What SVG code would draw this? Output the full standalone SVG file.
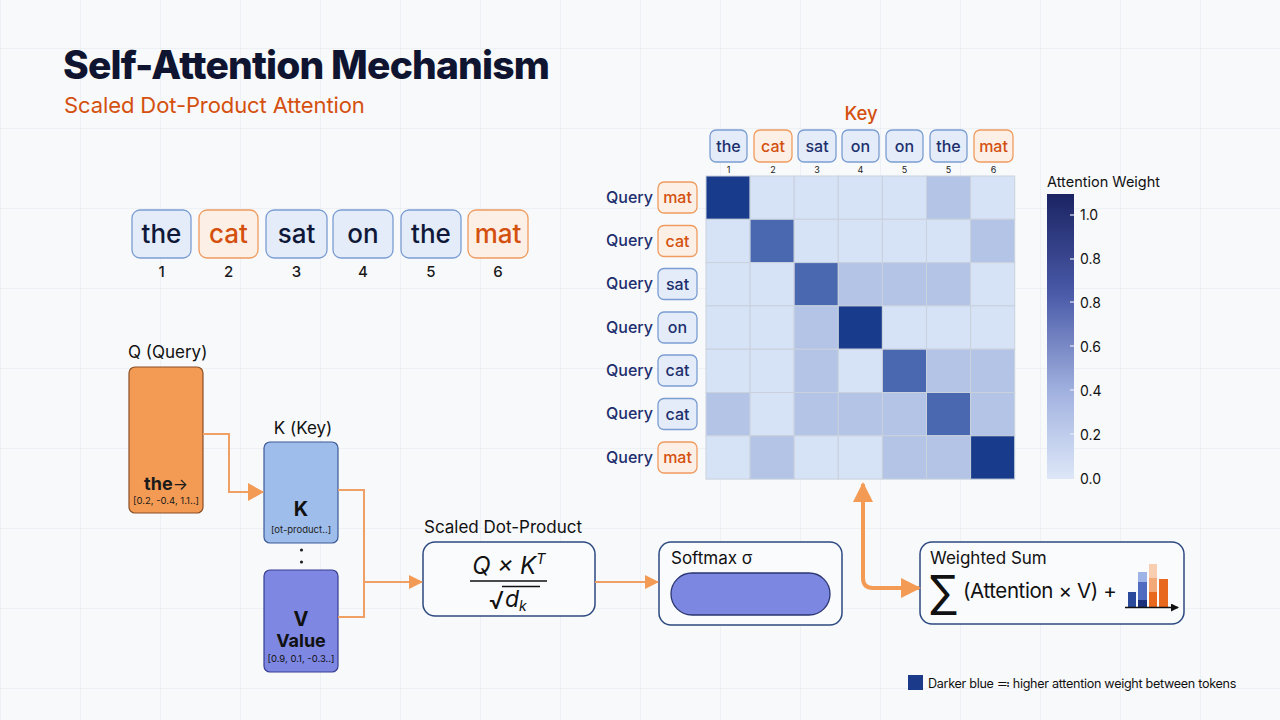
<svg xmlns="http://www.w3.org/2000/svg" width="1280" height="720" viewBox="0 0 1280 720">
<defs>
<pattern id="grid" patternUnits="userSpaceOnUse" x="0" y="48" width="80" height="80">
<path d="M0 0 H80 M0 0 V80" fill="none" stroke="#e1e7ed" stroke-width="1"/>
</pattern>
<linearGradient id="cbar" x1="0" y1="0" x2="0" y2="1">
<stop offset="0" stop-color="#1b2463"/>
<stop offset="0.35" stop-color="#4a5aa8"/>
<stop offset="0.7" stop-color="#a3b3e0"/>
<stop offset="1" stop-color="#dde7f8"/>
</linearGradient>
<marker id="ah" viewBox="0 0 16 18" refX="15" refY="9" markerWidth="16" markerHeight="18" markerUnits="userSpaceOnUse" orient="auto">
<path d="M0,0 L16,9 L0,18 z" fill="#f39a55"/>
</marker>
<marker id="ahs" viewBox="0 0 14 14" refX="13" refY="7" markerWidth="14" markerHeight="14" markerUnits="userSpaceOnUse" orient="auto">
<path d="M0,0 L14,7 L0,14 z" fill="#f39a55"/>
</marker>
<marker id="ahb" viewBox="0 0 20 20" refX="18" refY="10" markerWidth="20" markerHeight="20" markerUnits="userSpaceOnUse" orient="auto">
<path d="M0,0 L20,10 L0,20 z" fill="#f39a55"/>
</marker>
<marker id="axh" viewBox="0 0 8 8" refX="7" refY="4" markerWidth="8" markerHeight="8" markerUnits="userSpaceOnUse" orient="auto">
<path d="M0,0 L8,4 L0,8 z" fill="#111"/>
</marker>
</defs>
<style>
text{font-family:Inter,"Liberation Sans",sans-serif}
.tokb{fill:#e3ecf8;stroke:#7b9dd3;stroke-width:1.3}
.toko{fill:#fcefe5;stroke:#ef9b5f;stroke-width:1.3}
.tw{font-size:26px;font-weight:500;fill:#0f1838;text-anchor:middle}
.two{font-size:26px;font-weight:500;fill:#d4500f;text-anchor:middle}
.num{font-size:15px;font-weight:500;fill:#1a1a1a;text-anchor:middle}
.qlab{font-size:16px;font-weight:500;fill:#1d2f6e}
.hb{font-size:16px;font-weight:500;fill:#1d2f6e;text-anchor:middle}
.ho{font-size:16px;font-weight:500;fill:#d4500f;text-anchor:middle}
.kn{font-size:9px;fill:#222;text-anchor:middle}
.c0{fill:#d6e2f5}
.c1{fill:#b3c4e6}
.c2{fill:#4a68b0}
.c3{fill:#183b8c}
.cell{stroke:#c9d1dd;stroke-width:1}
.lbl{font-size:17px;fill:#111}
.cb{font-size:14px;fill:#111}
.box{fill:#fafbfd;stroke:#2d4a80;stroke-width:1.5}
.con{fill:none;stroke:#f0a065;stroke-width:2}
</style>
<rect width="1280" height="720" fill="#f8f9fa"/>
<rect width="1280" height="720" fill="url(#grid)"/>

<g id="title">
<text x="63" y="79" font-size="39" font-weight="800" fill="#0f1530" letter-spacing="-0.85">Self-Attention Mechanism</text>
<text x="64" y="113" font-size="22" fill="#d4500f" letter-spacing="-0.1">Scaled Dot-Product Attention</text>
</g>

<g id="tokens">
<rect class="tokb" x="132" y="210" width="59" height="48" rx="8"/>
<text class="tw" x="161.5" y="243">the</text>
<rect class="toko" x="199" y="210" width="59" height="48" rx="8"/>
<text class="two" x="228.5" y="243">cat</text>
<rect class="tokb" x="266" y="210" width="61" height="48" rx="8"/>
<text class="tw" x="296.5" y="243">sat</text>
<rect class="tokb" x="333" y="210" width="60" height="48" rx="8"/>
<text class="tw" x="363" y="243">on</text>
<rect class="tokb" x="401" y="210" width="60" height="48" rx="8"/>
<text class="tw" x="431" y="243">the</text>
<rect class="toko" x="468" y="210" width="60" height="48" rx="8"/>
<text class="two" x="498" y="243">mat</text>
<text class="num" x="161.5" y="277">1</text>
<text class="num" x="228.5" y="277">2</text>
<text class="num" x="296.5" y="277">3</text>
<text class="num" x="363" y="277">4</text>
<text class="num" x="431" y="277">5</text>
<text class="num" x="498" y="277">6</text>
</g>

<g id="query">
<text class="lbl" x="128" y="358">Q (Query)</text>
<rect x="129" y="367" width="74" height="146" rx="6" fill="#f39a55" stroke="#8a4f25" stroke-width="1.2"/>
<text x="166" y="490" font-size="18" font-weight="700" fill="#1a1a1a" text-anchor="middle">the<tspan font-weight="400" font-size="16">→</tspan></text>
<text x="166" y="504" font-size="9.5" fill="#1a1a1a" text-anchor="middle">[0.2, -0.4, 1.1..]</text>
</g>

<g id="key">
<text class="lbl" x="303" y="434" text-anchor="middle">K (Key)</text>
<rect x="264" y="442" width="74" height="101" rx="6" fill="#9ebdeb" stroke="#3b5a98" stroke-width="1.2"/>
<text x="301" y="516" font-size="20" font-weight="700" fill="#111" text-anchor="middle">K</text>
<text x="301" y="533" font-size="9.5" fill="#222" text-anchor="middle">[ot-product..]</text>
<circle cx="301.5" cy="550" r="1.6" fill="#222"/>
<circle cx="301.5" cy="562" r="1.6" fill="#222"/>
</g>

<g id="value">
<rect x="264" y="570" width="74" height="102" rx="6" fill="#7e87e1" stroke="#363d92" stroke-width="1.2"/>
<text x="301" y="626" font-size="20" font-weight="700" fill="#111" text-anchor="middle">V</text>
<text x="301" y="647" font-size="18" font-weight="700" fill="#111" text-anchor="middle">Value</text>
<text x="301" y="662" font-size="9.5" fill="#111" text-anchor="middle">[0.9, 0.1, -0.3..]</text>
</g>

<g id="scaled">
<text class="lbl" x="424" y="533">Scaled Dot-Product</text>
<rect class="box" x="423" y="542" width="172" height="74" rx="12"/>
<text x="509" y="574" font-size="24" font-style="italic" fill="#111" text-anchor="middle">Q × K<tspan font-size="15" dy="-10">T</tspan></text>
<line x1="470" y1="581" x2="547" y2="581" stroke="#111" stroke-width="1.5"/>
<text x="489" y="609" font-size="24" fill="#111">√</text>
<line x1="502" y1="586.5" x2="540" y2="586.5" stroke="#111" stroke-width="1.3"/>
<text x="505" y="607" font-size="23" font-style="italic" fill="#111">d<tspan font-size="14" dy="4">k</tspan></text>
</g>

<g id="softmax">
<rect class="box" x="659" y="542" width="183" height="83" rx="12"/>
<text class="lbl" x="671" y="564">Softmax σ</text>
<rect x="671" y="573" width="159" height="42" rx="21" fill="#7b87e1" stroke="#2a3570" stroke-width="1.3"/>
</g>

<g id="weighted">
<rect class="box" x="920" y="542" width="264" height="82" rx="12"/>
<text class="lbl" x="930" y="564">Weighted Sum</text>
<text x="929" y="609" font-size="46" fill="#111" font-family="'DejaVu Sans',sans-serif">∑</text>
<text x="963" y="598" font-size="20.5" fill="#111" letter-spacing="-0.4">(Attention × V) +</text>
<rect x="1128" y="592" width="8" height="15" fill="#2b4a9c"/>
<rect x="1138" y="572" width="9" height="10" fill="#9fb4e6"/>
<rect x="1138" y="582" width="9" height="18" fill="#4f6cc0"/>
<rect x="1138" y="600" width="9" height="7" fill="#1b2f7a"/>
<rect x="1149" y="564" width="8" height="14" fill="#f8cdb0"/>
<rect x="1149" y="578" width="8" height="14" fill="#f3a877"/>
<rect x="1149" y="592" width="8" height="15" fill="#e8691d"/>
<rect x="1159" y="579" width="9" height="28" fill="#e8691d"/>
<line x1="1125" y1="607.5" x2="1178" y2="607.5" stroke="#111" stroke-width="1.5" marker-end="url(#axh)"/>
</g>

<g id="heatmap">
<text x="861" y="120" font-size="18.5" font-weight="500" fill="#d4500f" text-anchor="middle">Key</text>
<rect class="tokb" x="710" y="130" width="37" height="32" rx="6"/>
<text class="hb" x="728.5" y="152">the</text>
<rect class="toko" x="754" y="130" width="38" height="32" rx="6"/>
<text class="ho" x="773" y="152">cat</text>
<rect class="tokb" x="798" y="130" width="38" height="32" rx="6"/>
<text class="hb" x="817" y="152">sat</text>
<rect class="tokb" x="842" y="130" width="37" height="32" rx="6"/>
<text class="hb" x="860.5" y="152">on</text>
<rect class="tokb" x="886" y="130" width="37" height="32" rx="6"/>
<text class="hb" x="904.5" y="152">on</text>
<rect class="tokb" x="930" y="130" width="37" height="32" rx="6"/>
<text class="hb" x="948.5" y="152">the</text>
<rect class="toko" x="974" y="130" width="39" height="32" rx="6"/>
<text class="ho" x="993.5" y="152">mat</text>
<text class="kn" x="728.5" y="173">1</text>
<text class="kn" x="773" y="173">2</text>
<text class="kn" x="817" y="173">3</text>
<text class="kn" x="860.5" y="173">4</text>
<text class="kn" x="904.5" y="173">5</text>
<text class="kn" x="948.5" y="173">5</text>
<text class="kn" x="993.5" y="173">6</text>

<g class="cell">
<rect class="c3" x="706" y="176" width="44.1" height="43.3"/>
<rect class="c0" x="750.1" y="176" width="44.1" height="43.3"/>
<rect class="c0" x="794.2" y="176" width="44.1" height="43.3"/>
<rect class="c0" x="838.3" y="176" width="44.1" height="43.3"/>
<rect class="c0" x="882.4" y="176" width="44.1" height="43.3"/>
<rect class="c1" x="926.5" y="176" width="44.1" height="43.3"/>
<rect class="c0" x="970.6" y="176" width="44.1" height="43.3"/>

<rect class="c0" x="706" y="219.3" width="44.1" height="43.3"/>
<rect class="c2" x="750.1" y="219.3" width="44.1" height="43.3"/>
<rect class="c0" x="794.2" y="219.3" width="44.1" height="43.3"/>
<rect class="c0" x="838.3" y="219.3" width="44.1" height="43.3"/>
<rect class="c0" x="882.4" y="219.3" width="44.1" height="43.3"/>
<rect class="c0" x="926.5" y="219.3" width="44.1" height="43.3"/>
<rect class="c1" x="970.6" y="219.3" width="44.1" height="43.3"/>

<rect class="c0" x="706" y="262.6" width="44.1" height="43.3"/>
<rect class="c0" x="750.1" y="262.6" width="44.1" height="43.3"/>
<rect class="c2" x="794.2" y="262.6" width="44.1" height="43.3"/>
<rect class="c1" x="838.3" y="262.6" width="44.1" height="43.3"/>
<rect class="c1" x="882.4" y="262.6" width="44.1" height="43.3"/>
<rect class="c1" x="926.5" y="262.6" width="44.1" height="43.3"/>
<rect class="c0" x="970.6" y="262.6" width="44.1" height="43.3"/>

<rect class="c0" x="706" y="305.9" width="44.1" height="43.3"/>
<rect class="c0" x="750.1" y="305.9" width="44.1" height="43.3"/>
<rect class="c1" x="794.2" y="305.9" width="44.1" height="43.3"/>
<rect class="c3" x="838.3" y="305.9" width="44.1" height="43.3"/>
<rect class="c0" x="882.4" y="305.9" width="44.1" height="43.3"/>
<rect class="c0" x="926.5" y="305.9" width="44.1" height="43.3"/>
<rect class="c0" x="970.6" y="305.9" width="44.1" height="43.3"/>

<rect class="c0" x="706" y="349.2" width="44.1" height="43.3"/>
<rect class="c0" x="750.1" y="349.2" width="44.1" height="43.3"/>
<rect class="c1" x="794.2" y="349.2" width="44.1" height="43.3"/>
<rect class="c0" x="838.3" y="349.2" width="44.1" height="43.3"/>
<rect class="c2" x="882.4" y="349.2" width="44.1" height="43.3"/>
<rect class="c1" x="926.5" y="349.2" width="44.1" height="43.3"/>
<rect class="c1" x="970.6" y="349.2" width="44.1" height="43.3"/>

<rect class="c1" x="706" y="392.5" width="44.1" height="43.3"/>
<rect class="c0" x="750.1" y="392.5" width="44.1" height="43.3"/>
<rect class="c1" x="794.2" y="392.5" width="44.1" height="43.3"/>
<rect class="c1" x="838.3" y="392.5" width="44.1" height="43.3"/>
<rect class="c1" x="882.4" y="392.5" width="44.1" height="43.3"/>
<rect class="c2" x="926.5" y="392.5" width="44.1" height="43.3"/>
<rect class="c1" x="970.6" y="392.5" width="44.1" height="43.3"/>

<rect class="c0" x="706" y="435.8" width="44.1" height="43.3"/>
<rect class="c1" x="750.1" y="435.8" width="44.1" height="43.3"/>
<rect class="c0" x="794.2" y="435.8" width="44.1" height="43.3"/>
<rect class="c0" x="838.3" y="435.8" width="44.1" height="43.3"/>
<rect class="c1" x="882.4" y="435.8" width="44.1" height="43.3"/>
<rect class="c1" x="926.5" y="435.8" width="44.1" height="43.3"/>
<rect class="c3" x="970.6" y="435.8" width="44.1" height="43.3"/>
</g>

<text class="qlab" x="606" y="203">Query</text>
<rect class="toko" x="658" y="182" width="39" height="31" rx="6"/>
<text class="ho" x="677.5" y="203">mat</text>
<text class="qlab" x="606" y="246">Query</text>
<rect class="toko" x="658" y="225.5" width="39" height="31" rx="6"/>
<text class="ho" x="677.5" y="246.5">cat</text>
<text class="qlab" x="606" y="289">Query</text>
<rect class="tokb" x="658" y="268.5" width="39" height="31" rx="6"/>
<text class="hb" x="677.5" y="289.5">sat</text>
<text class="qlab" x="606" y="333">Query</text>
<rect class="tokb" x="658" y="312" width="39" height="31" rx="6"/>
<text class="hb" x="677.5" y="333">on</text>
<text class="qlab" x="606" y="376">Query</text>
<rect class="tokb" x="658" y="355" width="39" height="31" rx="6"/>
<text class="hb" x="677.5" y="376">cat</text>
<text class="qlab" x="606" y="419">Query</text>
<rect class="tokb" x="658" y="398.5" width="39" height="31" rx="6"/>
<text class="hb" x="677.5" y="419.5">cat</text>
<text class="qlab" x="606" y="463">Query</text>
<rect class="toko" x="658" y="442" width="39" height="31" rx="6"/>
<text class="ho" x="677.5" y="463">mat</text>
</g>

<g id="colorbar">
<text x="1047" y="187" font-size="14.5" fill="#111">Attention Weight</text>
<rect x="1047" y="194" width="27" height="285" fill="url(#cbar)"/>
<g stroke="#e8ecf5" stroke-width="1.2">
<line x1="1070" y1="215" x2="1074" y2="215"/>
<line x1="1070" y1="259" x2="1074" y2="259"/>
<line x1="1070" y1="302" x2="1074" y2="302"/>
<line x1="1070" y1="346" x2="1074" y2="346"/>
<line x1="1070" y1="390" x2="1074" y2="390"/>
<line x1="1070" y1="434" x2="1074" y2="434"/>
</g>
<text class="cb" x="1080" y="220">1.0</text>
<text class="cb" x="1080" y="264">0.8</text>
<text class="cb" x="1080" y="308">0.8</text>
<text class="cb" x="1080" y="352">0.6</text>
<text class="cb" x="1080" y="396">0.4</text>
<text class="cb" x="1080" y="440">0.2</text>
<text class="cb" x="1080" y="484">0.0</text>
</g>

<g id="legend">
<rect x="908" y="675" width="15" height="15" fill="#1b3a8a"/>
<text x="928" y="688" font-size="12.6" fill="#111" letter-spacing="-0.3">Darker blue ≕ higher attention weight between tokens</text>
</g>

<g id="connectors">
<path class="con" d="M203 434 H229 V492 H263" marker-end="url(#ah)"/>
<path class="con" d="M338 490 H364 V617 H338"/>
<path class="con" d="M364 582 H422" marker-end="url(#ahs)"/>
<path class="con" d="M595 582 H658" marker-end="url(#ahs)"/>
<path d="M863 578 V484" fill="none" stroke="#f39a55" stroke-width="4" marker-end="url(#ahb)"/>
<path d="M863 578 Q863 588 873 588 H919" fill="none" stroke="#f39a55" stroke-width="4" marker-end="url(#ahb)"/>
</g>
</svg>
